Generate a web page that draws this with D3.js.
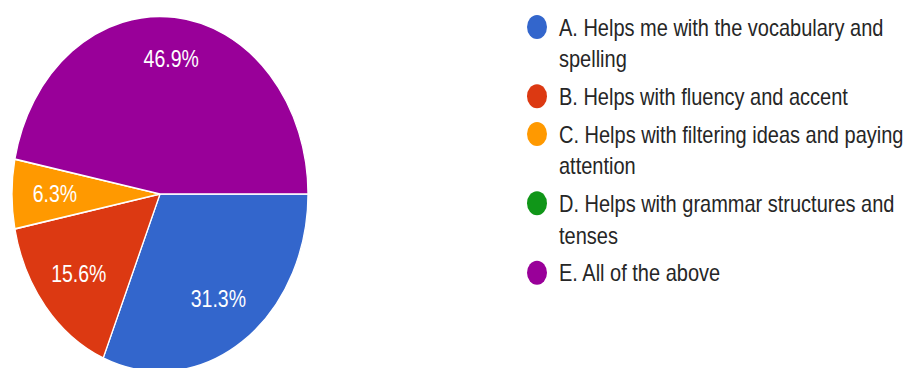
<!DOCTYPE html>
<html>
<head>
<meta charset="utf-8">
<script src="https://cdn.jsdelivr.net/npm/d3@7"></script>
<style>
  html, body { margin: 0; padding: 0; background: #fff; }
  svg { display: block; }
  text { font-family: "Liberation Sans", Arial, sans-serif; }
</style>
</head>
<body>
<svg id="chart" width="906" height="368"></svg>
<script>
// Survey answers and their share of responses (percent)
const categories = [
  "A. Helps me with the vocabulary and spelling",
  "B. Helps with fluency and accent",
  "C. Helps with filtering ideas and paying attention",
  "D. Helps with grammar structures and tenses",
  "E. All of the above"
];
const values = [31.3, 15.6, 6.3, 0, 46.9];
const colors = ["#3366cc", "#dc3912", "#ff9900", "#109618", "#990099"];

const W = 906, H = 368;
const sy = 1.2;               // vertical stretch of the whole drawing
const cx = 160, cy = 194 / sy, r = 148;

const svg = d3.select("#chart");
const root = svg.append("g").attr("transform", `scale(1,${sy})`);

const pie = d3.pie()
  .sort(null)
  .value(d => d.value)
  .startAngle(Math.PI / 2)
  .endAngle(Math.PI / 2 + 2 * Math.PI);

const data = categories.map((c, i) => ({ label: c, value: values[i], color: colors[i] }));
const arcs = pie(data);

const arc = d3.arc().innerRadius(0).outerRadius(r);
// large slices carry their label a little further out
const labelRadius = d => (d.data.value > 40 ? 0.765 : 0.71) * r;
const labelPos = d => d3.arc().innerRadius(labelRadius(d)).outerRadius(labelRadius(d)).centroid(d);

const pieG = root.append("g").attr("transform", `translate(${cx},${cy})`);

pieG.selectAll("path.slice")
  .data(arcs.filter(d => d.data.value > 0))
  .join("path")
  .attr("class", "slice")
  .attr("d", arc)
  .attr("fill", d => d.data.color)
  .attr("stroke", "#fff")
  .attr("stroke-width", 1.3)
  .attr("stroke-linejoin", "round");

pieG.selectAll("text.pct")
  .data(arcs.filter(d => d.data.value > 0))
  .join("text")
  .attr("class", "pct")
  .attr("transform", d => `translate(${labelPos(d)})`)
  .attr("text-anchor", "middle")
  .attr("dy", "0.36em")
  .attr("fill", "#fff")
  .attr("font-size", 19.5)
  .text(d => d.data.value.toFixed(1) + "%");

// Legend with wrapped entries
const legend = root.append("g");
const textX = 559, dotX = 537, maxW = 350;
const lineGap = 26.5, itemGap = 31.3;
let y = 22.5;

data.forEach(d => {
  const t = legend.append("text")
    .attr("x", textX)
    .attr("font-size", 20)
    .attr("fill", "#262626");
  // greedy word wrap
  const words = d.label.split(" ");
  const lines = [];
  let cur = "";
  const probe = legend.append("text").attr("font-size", 20).attr("visibility", "hidden");
  words.forEach(w => {
    const test = cur ? cur + " " + w : w;
    probe.text(test);
    if (probe.node().getComputedTextLength() > maxW && cur) {
      lines.push(cur);
      cur = w;
    } else cur = test;
  });
  lines.push(cur);
  probe.remove();

  legend.append("circle")
    .attr("cx", dotX).attr("cy", y).attr("r", 10)
    .attr("fill", d.color);

  lines.forEach((ln, k) => {
    t.append("tspan")
      .attr("x", textX)
      .attr("y", y + k * lineGap)
      .attr("dy", "0.36em")
      .text(ln);
  });
  y += (lines.length - 1) * lineGap + itemGap;
});
</script>
</body>
</html>
